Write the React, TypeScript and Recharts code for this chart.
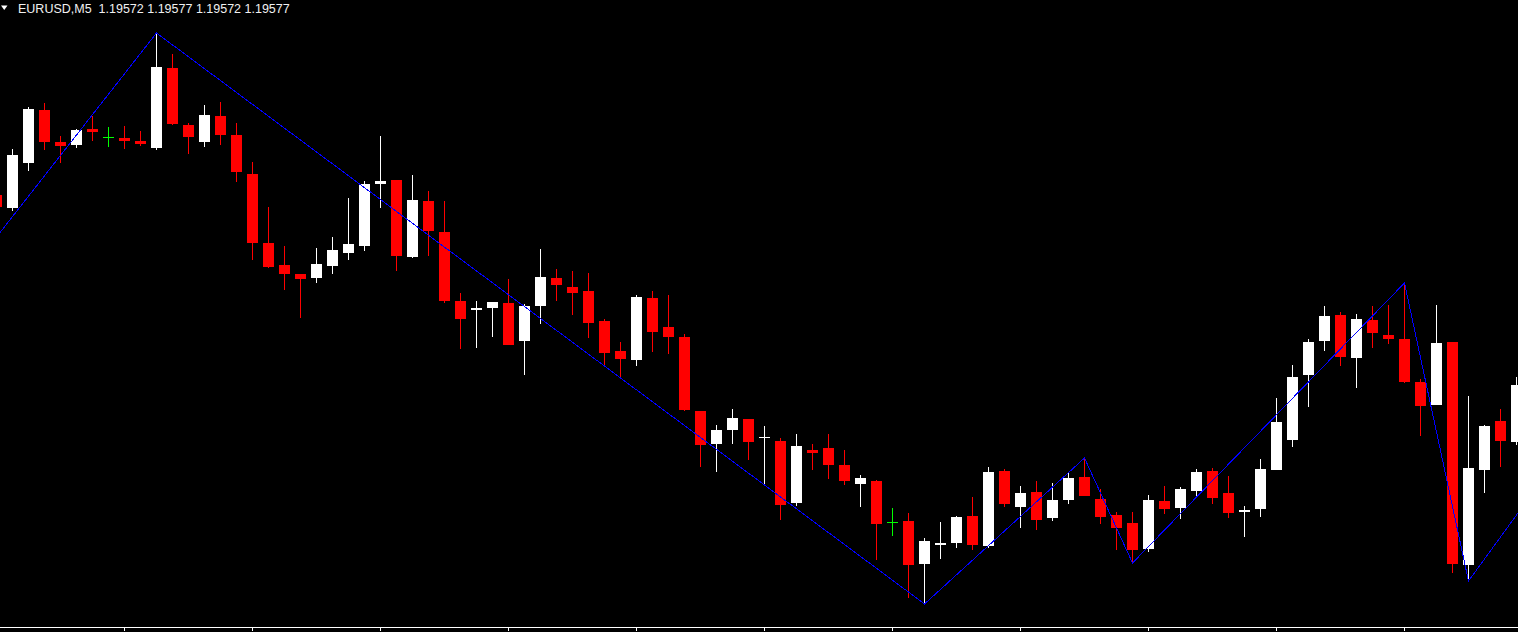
import React from "react";
import { ComposedChart, Bar, Line, XAxis, YAxis } from "recharts";

// EURUSD M5, prices in points: 1.19000 + value / 100000
const firstBar = -1;
const openPts = [
  767, 754, 799, 852, 820, 817, 833, 825, 824, 821, 814, 894, 837, 820, 846, 827,
  788, 719, 697, 688, 684, 696, 709, 716, 778, 782, 705, 761, 730, 661, 652, 654,
  659, 621, 656, 684, 675, 671, 641, 611, 602, 664, 635, 625, 551, 518, 532, 543,
  524, 521, 459, 512, 514, 497, 478, 481, 440, 441, 398, 417, 419, 446, 416, 491,
  455, 470, 444, 462, 485, 463, 447, 439, 413, 461, 454, 471, 491, 469, 450, 453,
  492, 522, 587, 621, 647, 604, 642, 627, 623, 580, 557, 620, 397, 492, 541, 520,
];
const highPts = [
  770, 813, 855, 859, 826, 833, 846, 835, 836, 831, 929, 908, 839, 857, 860, 839,
  800, 755, 716, 688, 714, 725, 764, 781, 826, 782, 787, 771, 761, 669, 661, 660,
  683, 658, 713, 693, 691, 689, 643, 620, 667, 671, 667, 628, 551, 537, 553, 543,
  536, 524, 528, 518, 528, 512, 487, 482, 454, 449, 424, 440, 446, 465, 495, 493,
  476, 481, 479, 489, 504, 473, 450, 450, 467, 476, 475, 493, 494, 486, 456, 503,
  564, 597, 623, 656, 650, 648, 656, 657, 679, 583, 657, 620, 566, 537, 553, 585,
];
const lowPts = [
  752, 751, 791, 812, 799, 814, 821, 815, 813, 816, 812, 837, 808, 815, 817, 780,
  702, 694, 672, 644, 679, 688, 702, 711, 754, 691, 704, 706, 659, 613, 614, 625,
  617, 587, 638, 661, 647, 624, 595, 585, 596, 610, 608, 551, 495, 490, 518, 502,
  477, 442, 456, 492, 483, 477, 455, 402, 426, 364, 358, 403, 414, 412, 414, 455,
  434, 432, 441, 458, 466, 438, 412, 399, 410, 448, 443, 466, 458, 444, 425, 445,
  492, 515, 555, 611, 596, 574, 614, 618, 579, 526, 557, 389, 381, 469, 495, 517,
];
const closePts = [
  755, 807, 853, 820, 816, 832, 830, 825, 821, 818, 895, 838, 825, 847, 827, 790,
  719, 695, 688, 683, 698, 712, 718, 778, 781, 706, 762, 731, 661, 643, 654, 660,
  617, 656, 685, 677, 669, 639, 609, 603, 665, 630, 625, 552, 517, 532, 544, 520,
  525, 457, 516, 509, 497, 481, 484, 438, 440, 397, 421, 419, 445, 417, 490, 458,
  469, 442, 462, 484, 466, 445, 434, 412, 462, 453, 473, 490, 464, 449, 452, 493,
  540, 585, 620, 646, 605, 643, 629, 623, 580, 556, 619, 398, 494, 536, 521, 577,
];

// ZigZag pivots (bar index, price in points)
const zigzagBars = [-1, 9, 57, 67, 70, 87, 91, 95];
const zigzagPts = [725, 929, 358, 504, 399, 679, 381, 469];

const axisTicks = [7, 15, 23, 31, 39, 47, 55, 63, 71, 79, 87];
const headerText = "EURUSD,M5  1.19572 1.19577 1.19572 1.19577";

const candles = openPts.map((o, i) => ({
  bar: firstBar + i,
  open: o,
  high: highPts[i],
  low: lowPts[i],
  close: closePts[i],
}));
const zigzag = zigzagBars.map((b, i) => ({ bar: b, zz: zigzagPts[i] }));

const Candle = (props: any) => {
  const { x, y, width, height, payload } = props;
  if (!payload) return null;
  const { open, high, low, close } = payload;
  const cx = Math.floor(x + width / 2) + 0.5;
  const top = Math.min(y, y + height);
  const h = Math.abs(height);
  const py = (v: number) => (high === low ? top : top + ((high - v) / (high - low)) * h);
  const color = close > open ? "#ffffff" : close < open ? "#ff0000" : "#00ff00";
  const bodyTop = py(Math.max(open, close));
  const bodyBot = py(Math.min(open, close));
  return (
    <g>
      <line x1={cx} x2={cx} y1={top} y2={top + h} stroke={color} strokeWidth={1} />
      {open === close ? (
        <line x1={cx - 5.5} x2={cx + 5.5} y1={bodyTop + 0.5} y2={bodyTop + 0.5} stroke={color} strokeWidth={1} />
      ) : (
        <rect x={cx - 5.5} y={bodyTop} width={11} height={Math.max(bodyBot - bodyTop, 1)} fill={color} />
      )}
    </g>
  );
};

export default function App() {
  return (
    <div style={{ position: "fixed", left: 0, top: 0, width: 1518, height: 632, background: "#000", overflow: "hidden" }}>
      <style>{"svg line, svg rect, svg path { shape-rendering: crispEdges; }"}</style>
      <ComposedChart width={1518} height={632} data={candles} margin={{ top: 0, right: 0, bottom: 0, left: 0 }}>
        <XAxis
          dataKey="bar"
          type="number"
          domain={[-0.78125, 94.09375]}
          allowDataOverflow
          ticks={axisTicks}
          tick={() => <g />}
          tickSize={4}
          height={5}
          stroke="#ffffff"
          tickLine={{ stroke: "#ffffff" }}
          axisLine={{ stroke: "#ffffff" }}
        />
        <YAxis hide type="number" domain={[335, 962]} allowDataOverflow />
        <Bar
          dataKey={(d: any) => [d.low, d.high]}
          barSize={11}
          shape={(p: any) => <Candle {...p} />}
          isAnimationActive={false}
        />
        <Line
          data={zigzag}
          dataKey="zz"
          type="linear"
          stroke="#0000ff"
          strokeWidth={1}
          dot={false}
          activeDot={false}
          isAnimationActive={false}
        />
      </ComposedChart>
      <div
        style={{
          position: "absolute",
          left: 0,
          top: 1,
          height: 16,
          display: "flex",
          alignItems: "center",
          fontFamily: '"Liberation Sans", Arial, sans-serif',
          fontSize: 12.5,
          lineHeight: "16px",
          color: "#f0f0f0",
          whiteSpace: "pre",
        }}
      >
        <svg width={18} height={16} style={{ display: "block" }}>
          <polygon points="1,4.5 7.5,4.5 4.25,9" fill="#ffffff" />
        </svg>
        <span>{headerText}</span>
      </div>
    </div>
  );
}
